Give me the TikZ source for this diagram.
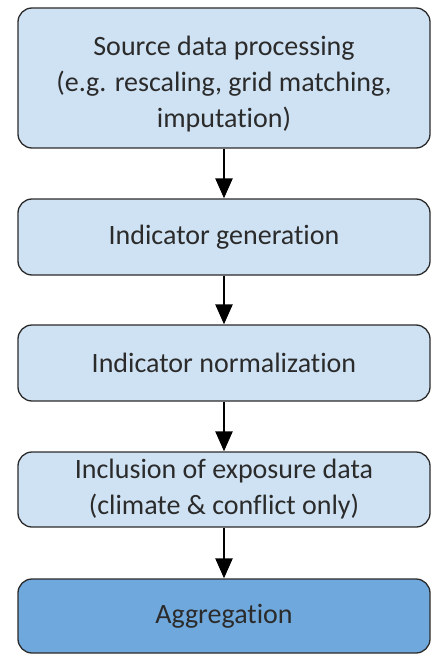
\documentclass[tikz,border=0pt]{standalone}
\usepackage{fontspec}
\setmainfont{Carlito}[RawFeature=-liga]
\usetikzlibrary{arrows.meta}
\definecolor{boxlight}{HTML}{CFE2F3}
\definecolor{boxdark}{HTML}{6FA8DC}
\definecolor{inkgray}{HTML}{2B2B2B}
\tikzset{
	stage/.style={draw=inkgray, line width=1.3pt, fill=boxlight, rounded corners=14pt,
		minimum width=412pt, align=center, text=inkgray,
		font=\fontsize{28}{36}\selectfont},
	flow/.style={line width=2.4pt, -{Triangle[width=17pt,length=20pt]}}
}
\begin{document}
\begin{tikzpicture}[x=1pt,y=-1pt]
	\useasboundingbox (0,0) rectangle (431,655);
	\node[stage, minimum height=140pt] (proc) at (224,78) {\rule{0pt}{31pt}Source data processing\\(e.g. rescaling, grid matching,\\imputation)};
	\node[stage, minimum height=76pt] (gen) at (224,237) {Indicator generation};
	\node[stage, minimum height=76pt] (norm) at (224,363) {Indicator normalization};
	\node[stage, minimum height=75pt] (expo) at (224,489.5) {Inclusion of exposure data\\(climate \& conflict only)};
	\node[stage, fill=boxdark, minimum height=74pt] (aggr) at (224,616) {Aggregation};
	\draw[flow] (proc) -- (gen);
	\draw[flow] (gen) -- (norm);
	\draw[flow] (norm) -- (expo);
	\draw[flow] (expo) -- (aggr);
\end{tikzpicture}
\end{document}
